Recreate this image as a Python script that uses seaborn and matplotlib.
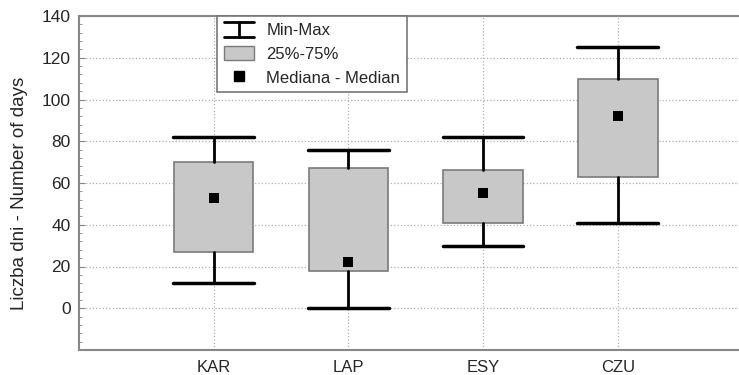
import seaborn as sns
import matplotlib.pyplot as plt
import pandas as pd
from matplotlib.ticker import MultipleLocator
from matplotlib.patches import Rectangle
from matplotlib.lines import Line2D
from matplotlib.legend_handler import HandlerBase

# values
stations = ["KAR", "LAP", "ESY", "CZU"]
minimum = [12, 0, 30, 41]
q25 = [27, 18, 41, 63]
median = [53, 22, 55, 92]
q75 = [70, 67, 66, 110]
maximum = [82, 76, 82, 125]

df = pd.DataFrame({"station": stations, "min": minimum, "q1": q25,
                   "med": median, "q3": q75, "max": maximum})

sns.set_style("white")
plt.rcParams["font.family"] = ["Liberation Sans", "DejaVu Sans"]

fig = plt.figure(figsize=(7.39, 3.75), dpi=100)
ax = fig.add_axes([79 / 739, 25 / 375, 1 - 79 / 739, 334 / 375])

stats = []
for _, r in df.iterrows():
    stats.append({"label": r["station"], "whislo": r["min"], "q1": r["q1"],
                  "med": r["med"], "q3": r["q3"], "whishi": r["max"], "fliers": []})

pos = list(range(len(stations)))
ax.bxp(stats, positions=pos, widths=0.59, capwidths=0.6, patch_artist=True, showfliers=False,
       boxprops=dict(facecolor="#c8c8c8", edgecolor="#7a7a7a", linewidth=1.2),
       whiskerprops=dict(color="black", linewidth=2),
       capprops=dict(color="black", linewidth=2.5),
       medianprops=dict(linewidth=0))

sns.scatterplot(x=pos, y=df["med"], marker="s", color="black", s=45,
                edgecolor="black", linewidth=0, ax=ax, zorder=5)

ax.set_xlim(-1, 3.9)
ax.set_ylim(-20, 140)
ax.set_xticks(pos)
ax.set_xticklabels(stations, fontsize=12)
ax.yaxis.set_major_locator(MultipleLocator(20))
ax.yaxis.set_minor_locator(MultipleLocator(4))
ax.set_yticks([0, 20, 40, 60, 80, 100, 120, 140])
ax.tick_params(axis="y", which="major", direction="in", length=4, color="#888888",
               labelsize=12.5, left=True, pad=6)
ax.tick_params(axis="y", which="minor", direction="in", length=2, color="#888888", left=True)
ax.tick_params(axis="x", length=0, pad=7)
ax.grid(True, which="major", linestyle=":", color="#b0b0b0", linewidth=0.9)
ax.set_axisbelow(True)
ax.set_ylabel("Liczba dni - Number of days", fontsize=13.5)
ax.yaxis.set_label_coords(-0.077, 0.47)
ax.set_xlabel("")

for side in ["left", "bottom", "top"]:
    ax.spines[side].set_color("#888888")
    ax.spines[side].set_linewidth(1.5)
ax.spines["right"].set_visible(False)


class MinMaxHandler(HandlerBase):
    def create_artists(self, legend, orig_handle, xdescent, ydescent, width, height, fontsize, trans):
        cx = width / 2 - xdescent
        mid = height / 2 - ydescent
        top = mid + height * 0.55
        bot = mid - height * 0.55
        lines = [Line2D([cx, cx], [bot, top]),
                 Line2D([-xdescent, width - xdescent], [top, top]),
                 Line2D([-xdescent, width - xdescent], [bot, bot])]
        for ln in lines:
            ln.set_color("black")
            ln.set_linewidth(2)
            ln.set_transform(trans)
        return lines


minmax = Line2D([], [], color="black")
box = Rectangle((0, 0), 1, 1, facecolor="#c8c8c8", edgecolor="#7a7a7a")
med = Line2D([], [], marker="s", color="black", linestyle="none", markersize=7)
leg = ax.legend([minmax, box, med], ["Min-Max", "25%-75%", "Mediana - Median"],
                handler_map={minmax: MinMaxHandler()},
                loc="upper left", bbox_to_anchor=(217 / 739, 1 - 16 / 375),
                bbox_transform=fig.transFigure, fontsize=12, frameon=True,
                fancybox=False, edgecolor="#777777", framealpha=1,
                handlelength=1.8, handleheight=0.85, labelspacing=0.5,
                borderpad=0.4, handletextpad=0.75, borderaxespad=0)
leg.get_frame().set_linewidth(1.2)

fig.savefig("out.png", dpi=100)
